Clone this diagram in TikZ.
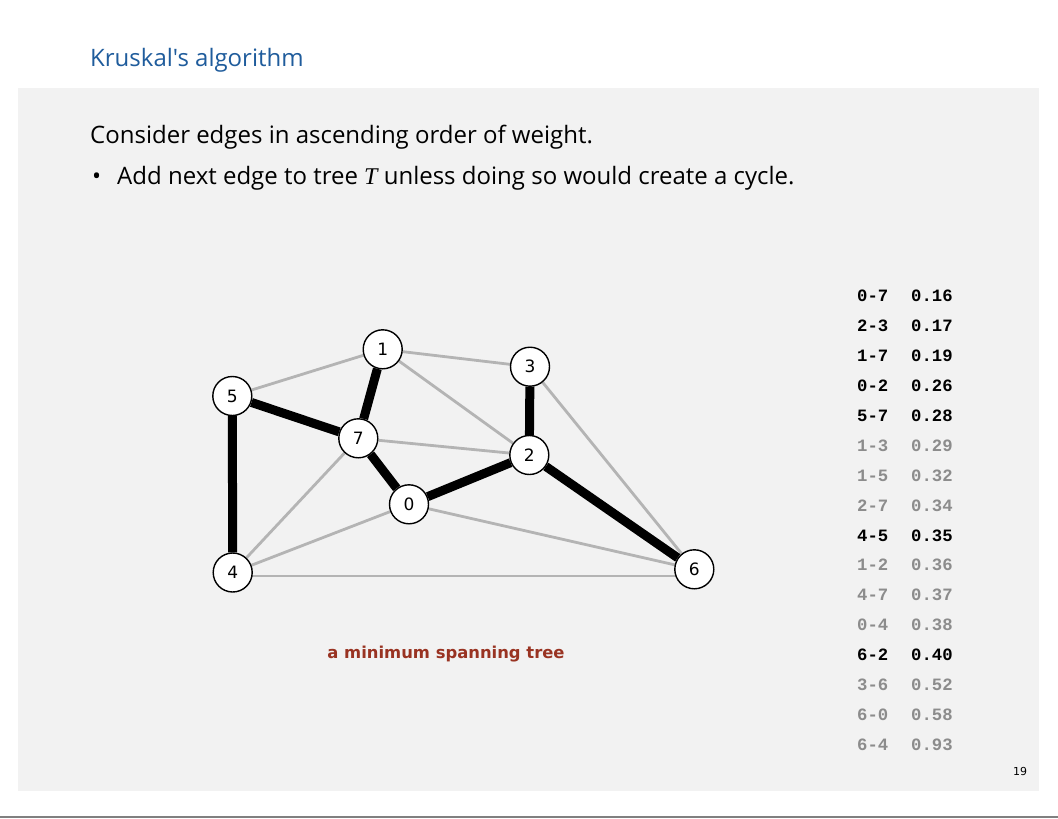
\documentclass[tikz,border=0pt]{standalone}
\usepackage{fontspec}
\setmainfont{DejaVu Sans}
\newfontfamily\monofnt{Liberation Mono}
\newfontfamily\titlefnt{Open Sans}
\definecolor{panelgray}{HTML}{F2F2F2}
\definecolor{titleblue}{HTML}{1F5C9C}
\definecolor{capbrown}{HTML}{993322}
\definecolor{edgegray}{HTML}{B4B4B4}
\definecolor{listgray}{HTML}{8C8C8C}
\pgfdeclarelayer{back}
\pgfdeclarelayer{bg}
\pgfsetlayers{back,bg,main}
\begin{document}
\begin{tikzpicture}[x=1pt,y=-1pt,
  vtx/.style={circle,draw=black,line width=1.4pt,fill=white,minimum size=39pt,inner sep=0pt,font=\fontsize{17}{17}\selectfont},
  lightedge/.style={draw=edgegray,line width=2.8pt},
  treeedge/.style={draw=black,line width=9pt},
  listblk/.style={anchor=west,font=\monofnt\bfseries\fontsize{17.3}{17.3}\selectfont,text=black,inner sep=0pt},
  listgry/.style={listblk,text=listgray},
  txt/.style={anchor=base west,inner sep=0pt}]
\useasboundingbox (0,0) rectangle (1058,819);
\begin{pgfonlayer}{back}
\fill[white] (0,0) rectangle (1058,819);
\fill[panelgray] (18,88) rectangle (1039,791);
\draw[gray,line width=1.5pt] (0,817) -- (1058,817);
\end{pgfonlayer}
\node[txt,text=titleblue,font=\titlefnt\fontsize{24}{24}\selectfont] (title) at (90,66) {Kruskal's algorithm};
\node[txt,font=\titlefnt\fontsize{24}{24}\selectfont] (l1) at (90,143) {Consider edges in ascending order of weight.};
\node[txt,font=\titlefnt\fontsize{24}{24}\selectfont] (bul) at (92,184) {\textbullet};
\node[txt,font=\titlefnt\fontsize{24}{24}\selectfont] (l2) at (117,184) {Add next edge to tree {\fontspec{Liberation Serif}\itshape T} unless doing so would create a cycle.};
% vertices
\node[vtx] (v1) at (382.7,349.3) {1};
\node[vtx] (v3) at (530,366.7) {3};
\node[vtx] (v5) at (232.3,396) {5};
\node[vtx] (v7) at (358.3,438.3) {7};
\node[vtx] (v2) at (529.3,455) {2};
\node[vtx] (v0) at (409,504.3) {0};
\node[vtx] (v4) at (232.7,572.5) {4};
\node[vtx] (v6) at (694.3,569.3) {6};
\begin{pgfonlayer}{bg}
\draw[lightedge] (v1) -- (v5);
\draw[lightedge] (v1) -- (v3);
\draw[lightedge] (v1) -- (v2);
\draw[lightedge] (v7) -- (v2);
\draw[lightedge] (v4) -- (v7);
\draw[lightedge] (v0) -- (v4);
\draw[lightedge] (v0) -- (v6);
\draw[lightedge] ([yshift=-3.5pt]v4.center) -- ([yshift=-6.7pt]v6.center);
\draw[lightedge] (v3) -- (v6);
\draw[treeedge] (v1) -- (v7);
\draw[treeedge] (v5) -- (v7);
\draw[treeedge] (v7) -- (v0);
\draw[treeedge] (v0) -- (v2);
\draw[treeedge] (v3) -- (v2);
\draw[treeedge] (v2) -- (v6);
\draw[treeedge] (v5) -- (v4);
\end{pgfonlayer}
\node[text=capbrown,font=\bfseries\fontsize{16.4}{16.4}\selectfont] (cap) at (446,654) {a minimum spanning tree};
% edge list
\node[listblk] (e1a) at (857,296) {0-7}; \node[listblk] (e1b) at (911,296) {0.16};
\node[listblk] (e2a) at (857,326) {2-3}; \node[listblk] (e2b) at (911,326) {0.17};
\node[listblk] (e3a) at (857,356) {1-7}; \node[listblk] (e3b) at (911,356) {0.19};
\node[listblk] (e4a) at (857,386) {0-2}; \node[listblk] (e4b) at (911,386) {0.26};
\node[listblk] (e5a) at (857,416) {5-7}; \node[listblk] (e5b) at (911,416) {0.28};
\node[listgry] (e6a) at (857,446) {1-3}; \node[listgry] (e6b) at (911,446) {0.29};
\node[listgry] (e7a) at (857,476) {1-5}; \node[listgry] (e7b) at (911,476) {0.32};
\node[listgry] (e8a) at (857,506) {2-7}; \node[listgry] (e8b) at (911,506) {0.34};
\node[listblk] (e9a) at (857,536) {4-5}; \node[listblk] (e9b) at (911,536) {0.35};
\node[listgry] (e10a) at (857,565) {1-2}; \node[listgry] (e10b) at (911,565) {0.36};
\node[listgry] (e11a) at (857,595) {4-7}; \node[listgry] (e11b) at (911,595) {0.37};
\node[listgry] (e12a) at (857,625) {0-4}; \node[listgry] (e12b) at (911,625) {0.38};
\node[listblk] (e13a) at (857,655) {6-2}; \node[listblk] (e13b) at (911,655) {0.40};
\node[listgry] (e14a) at (857,685) {3-6}; \node[listgry] (e14b) at (911,685) {0.52};
\node[listgry] (e15a) at (857,715) {6-0}; \node[listgry] (e15b) at (911,715) {0.58};
\node[listgry] (e16a) at (857,745) {6-4}; \node[listgry] (e16b) at (911,745) {0.93};
\node[font=\fontsize{11}{11}\selectfont] (pg) at (1020,771) {19};
\end{tikzpicture}
\end{document}
